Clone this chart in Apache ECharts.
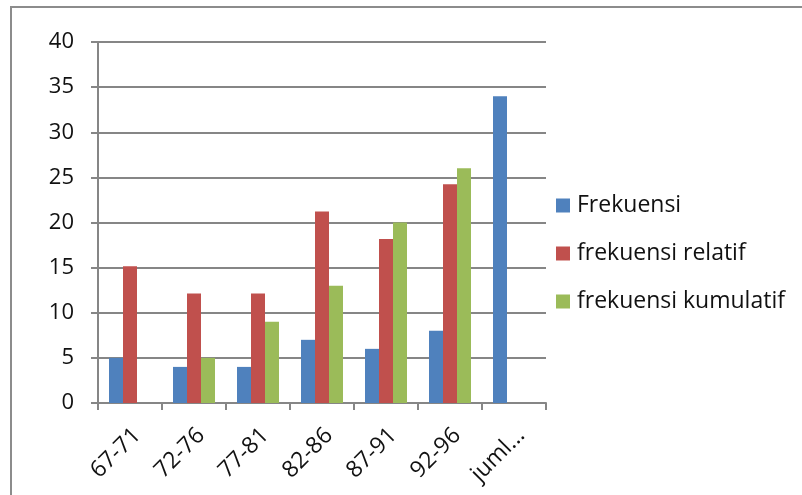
<!DOCTYPE html>
<html>
<head>
<meta charset="utf-8">
<script src="https://cdn.jsdelivr.net/npm/echarts@6/dist/echarts.min.js"></script>
<style>
html,body{margin:0;padding:0;background:#fff;}
#chart{width:802px;height:495px;}
</style>
</head>
<body>
<div id="chart"></div>
<script>
var categories = ['67-71', '72-76', '77-81', '82-86', '87-91', '92-96', 'juml...'];
var frekuensi = [5, 4, 4, 7, 6, 8, 34];
var frekuensiRelatif = [15.15, 12.12, 12.12, 21.21, 18.18, 24.24, null];
var frekuensiKumulatif = [null, 5, 9, 13, 20, 26, null];
var yTicks = [0, 5, 10, 15, 20, 25, 30, 35, 40];

var FONT = '"Open Sans", "Noto Sans", sans-serif';
var chart = echarts.init(document.getElementById('chart'), null, {renderer: 'canvas'});
chart.setOption({
  animation: false,
  backgroundColor: '#ffffff',
  color: ['#4F81BD', '#C0504D', '#9BBB59'],
  graphic: [{
    type: 'rect',
    shape: {x: 11, y: 7, width: 900, height: 700},
    style: {fill: 'none', stroke: '#8c8c8c', lineWidth: 2},
    silent: true,
    z: -10
  }],
  grid: {left: 98, right: 256, top: 42, bottom: 92, containLabel: false},
  legend: {
    orient: 'vertical',
    left: 556,
    top: 194,
    padding: 0,
    itemWidth: 14,
    itemHeight: 14,
    itemGap: 25,
    icon: 'rect',
    textStyle: {fontFamily: FONT, fontSize: 23, color: '#111', padding: [0, 0, 0, 2]},
    data: ['Frekuensi', 'frekuensi relatif', 'frekuensi kumulatif']
  },
  xAxis: {
    type: 'category',
    data: categories,
    axisLine: {lineStyle: {color: '#868686', width: 2}},
    axisTick: {show: true, length: 7, interval: 0, lineStyle: {color: '#868686', width: 2}},
    axisLabel: {
      interval: 0,
      rotate: 45,
      margin: 36,
      padding: [0, -10, 0, 0],
      fontFamily: FONT,
      fontSize: 23,
      color: '#111'
    }
  },
  yAxis: {
    type: 'value',
    min: yTicks[0],
    max: yTicks[yTicks.length - 1],
    interval: 5,
    axisLine: {show: true, lineStyle: {color: '#868686', width: 2}},
    axisTick: {show: true, length: 7, lineStyle: {color: '#868686', width: 2}},
    splitLine: {show: true, lineStyle: {color: '#868686', width: 2}},
    axisLabel: {
      margin: 24,
      fontFamily: FONT,
      fontSize: 22,
      color: '#111'
    }
  },
  series: [
    {name: 'Frekuensi', type: 'bar', data: frekuensi, barWidth: 14, barGap: '0%'},
    {name: 'frekuensi relatif', type: 'bar', data: frekuensiRelatif, barWidth: 14, barGap: '0%'},
    {name: 'frekuensi kumulatif', type: 'bar', data: frekuensiKumulatif, barWidth: 14, barGap: '0%'}
  ]
});
</script>
</body>
</html>
